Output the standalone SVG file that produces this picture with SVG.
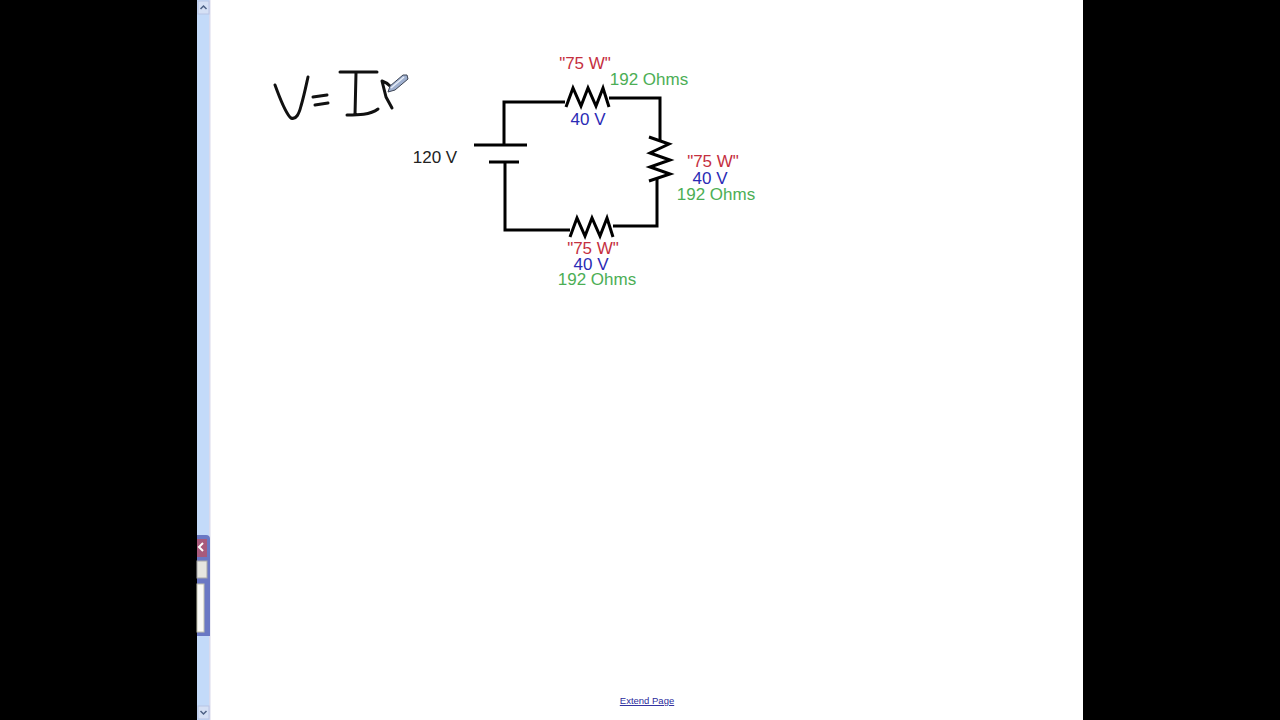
<svg xmlns="http://www.w3.org/2000/svg" width="1280" height="720" viewBox="0 0 1280 720">
<style>
text{font-family:"Liberation Sans",Arial,sans-serif;font-size:17px;text-anchor:middle}
.w{fill:none;stroke:#000;stroke-width:3;stroke-linejoin:miter}
.ink{fill:none;stroke:#111;stroke-width:3;stroke-linecap:round;stroke-linejoin:round}
.r{fill:#c5303f}.b{fill:#2b2bb5}.g{fill:#4cae55}.k{fill:#222}
</style>
<rect width="1280" height="720" fill="#fff"/>
<g id="letterbox"><rect x="0" y="0" width="197" height="720" fill="#000"/><rect x="1083" y="0" width="197" height="720" fill="#000"/></g>
<g id="scrollbar">
<rect x="197" y="0" width="13" height="720" fill="#c3daf9"/>
<rect x="209" y="0" width="1.500" height="720" fill="#d9d9ec"/>
<rect x="198" y="1" width="11" height="13" fill="#d5e0f5" stroke="#b8c4e4"/>
<path d="M200.500 9l3-3 3 3" fill="none" stroke="#4d6185" stroke-width="1.500"/>
<rect x="198" y="706" width="11" height="13" fill="#d5e0f5" stroke="#b8c4e4"/>
<path d="M200.500 711l3 3 3-3" fill="none" stroke="#4d6185" stroke-width="1.500"/>
<path d="M197 535h9q4 0 4 4v97h-13z" fill="#6a78c4"/>
<rect x="197" y="539" width="10" height="18" fill="#a85a7c"/>
<path d="M203 543l-4 4 4 4" fill="none" stroke="#fff" stroke-width="2"/>
<rect x="197" y="561" width="10" height="17" fill="#e6e6e0" stroke="#a8a8a8"/>
<rect x="197" y="584" width="7" height="48" fill="#fafaf6" stroke="#c2c2b0"/>
</g>
<g id="equation">
<path class="ink" d="M275 85C280 98 285 113 291 118C296 120 299 114 301 106C304 96 306 86 308 77"/>
<path class="ink" d="M313 97L327 95M315 105L328 103"/>
<path class="ink" d="M340 72L377 72M356 73L355 115M347 115C358 115 370 115 378 109"/>
<path class="ink" d="M382 81L386 97L392 108M382 81C385 82 388 84 390 86"/>
</g>
<g id="pen"><path d="M388 92L390 86L403 75L407 75L408 79L395 90Z" fill="#9fb0cf" stroke="#3c4454" stroke-width="1"/><path d="M391 88L404 77" stroke="#e8eef8" stroke-width="1.500"/></g>
<g id="connectors">
<path class="w" d="M565 102H504V145M609 98H660V141M505 162V230H570M613 226H657V178"/>
<path class="w" d="M474 145H527M489 162H519"/>
</g>
<g id="resistor-top"><path class="w" d="M566 107L573 88L581 106L588 88L596 106L603 88L609 107"/></g>
<g id="resistor-right"><path class="w" d="M649 137L669 144L650 153L670 160L650 167L670 174L649 181"/></g>
<g id="resistor-bottom"><path class="w" d="M570 237L577 218L585 236L592 218L600 236L607 218L613 237"/></g>
<g id="label-battery"><text class="k" x="435" y="163">120 V</text></g>
<g id="label-top"><text class="r" x="585" y="69">"75 W"</text><text class="g" x="649" y="85">192 Ohms</text><text class="b" x="588" y="125">40 V</text></g>
<g id="label-right"><text class="r" x="713" y="167">"75 W"</text><text class="b" x="710" y="184">40 V</text><text class="g" x="716" y="200">192 Ohms</text></g>
<g id="label-bottom"><text class="r" x="593" y="254">"75 W"</text><text class="b" x="591" y="270">40 V</text><text class="g" x="597" y="285">192 Ohms</text></g>
<g id="extend-link"><text x="647" y="704" style="font-size:9.500px;fill:#2a2a9c;text-decoration:underline">Extend Page</text></g>
</svg>
